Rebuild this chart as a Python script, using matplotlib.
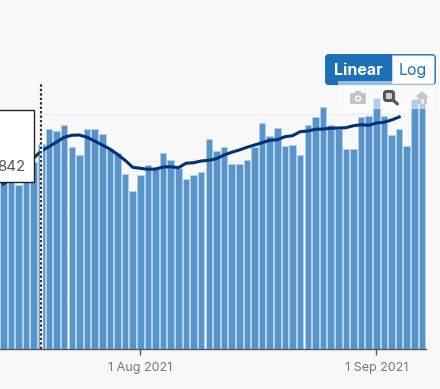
import pandas as pd
import matplotlib.pyplot as plt
import matplotlib.dates as mdates
from matplotlib.patches import Rectangle, FancyBboxPatch, Circle, Polygon

plt.rcParams['font.family'] = ['Inter', 'DejaVu Sans']

dates = pd.date_range('2021-07-14', '2021-09-07')
daily = [29580, 30430, 27880, 31280, 31790, 34850, 37350, 37060, 38080, 34390, 32980,
         37350, 37350, 36550, 33950, 33320, 29700, 26910, 29530, 31330, 30720, 33270,
         32180, 30720, 28900, 29580, 30140, 35650, 33710, 34290, 31400, 31400, 32180,
         34290, 38470, 36160, 37570, 34510, 34630, 32980, 38080, 39390, 41140, 38030,
         37350, 34000, 34000, 39490, 39610, 42720, 39610, 36330, 37400, 34560, 42450,
         42450]
# rolling average stops before the last three days
rolling = [28050, 28900, 30090, 31280, 32470, 33660, 34390, 35190, 35990, 36330, 36380,
           35990, 35360, 34680, 34000, 33100, 32080, 30890, 30720, 30550, 30600, 30940,
           30990, 30820, 31570, 31670, 31960, 32080, 32350, 32980, 33440, 33830, 34290,
           34680, 35070, 35480, 35580, 36090, 36260, 36940, 37060, 37350, 37400, 37520,
           37570, 37620, 37960, 38130, 38030, 38420, 38540, 38930, 39440]
grid_values = [8000, 16000, 24000, 32000, 40000]
tick_dates = ['2021-08-01', '2021-09-01']
tick_labels = ['1 Aug 2021', '1 Sep 2021']
marker_date = '2021-07-19'

W, H = 440, 389
bg = '#f8f8f8'
fig = plt.figure(figsize=(W / 100, H / 100), dpi=100, facecolor=bg)

# main chart, pixel edges: x 0-425.7, baseline at y=349
ax = fig.add_axes([0, (H - 349) / H, 425.7 / W, 349 / H], facecolor=bg)
aug1 = mdates.date2num(pd.Timestamp('2021-08-01'))
ax.set_xlim(aug1 - 140.3 / 7.613, aug1 + (425.7 - 140.3) / 7.613)
ax.set_ylim(0, 59330)

ax.bar(dates, daily, width=0.86, color='#5694ca', edgecolor='#b9d2e8', linewidth=0.5, zorder=2)
ax.plot(dates[:len(rolling)], rolling, color='#003078', linewidth=2.2, zorder=3)

for g in grid_values:
    ax.axhline(g, color='#eeeeee', linewidth=1, zorder=1)

ax.vlines(pd.Timestamp(marker_date), 0, 45050, color='white', linewidth=2.4, zorder=4)
ax.vlines(pd.Timestamp(marker_date), 0, 45050, color='#333333', linewidth=1.6,
          linestyles=(0, (1.1, 0.9)), zorder=5)

ax.set_xticks(pd.to_datetime(tick_dates))
ax.set_xticklabels(tick_labels, fontsize=9, color='#777777')
ax.tick_params(axis='x', length=4, width=1, color='#505a5f', pad=5)
ax.set_yticks([])
for s in ['top', 'left', 'right']:
    ax.spines[s].set_visible(False)
ax.spines['bottom'].set_color('#505a5f')
ax.spines['bottom'].set_linewidth(1)

# overlay in pixel coordinates for the tooltip and the buttons
ui = fig.add_axes([0, 0, 1, 1], facecolor='none')
ui.set_xlim(0, W)
ui.set_ylim(H, 0)
ui.axis('off')

ui.add_patch(Rectangle((-2, 110), 35.5, 72, facecolor='white', edgecolor='#222222', linewidth=1))
ui.text(25.8, 167, '842', ha='right', va='center', fontsize=10.8, color='#555555')

# Linear / Log switch
ui.add_patch(FancyBboxPatch((325.8, 54.8), 109.4, 29.6, boxstyle='round,pad=0,rounding_size=3',
                            facecolor='white', edgecolor='#1d70b8', linewidth=1))
ui.add_patch(FancyBboxPatch((325.3, 54.3), 67, 30.4, boxstyle='round,pad=0,rounding_size=3',
                            facecolor='#1d70b8', edgecolor='none'))
ui.add_patch(Rectangle((385, 54.3), 7.3, 30.4, facecolor='#1d70b8', edgecolor='none'))
ui.text(358.5, 70, 'Linear', ha='center', va='center', fontsize=11.5, fontweight='bold', color='white')
ui.text(413, 70, 'Log', ha='center', va='center', fontsize=11.5, color='#1d70b8')

# modebar
ui.add_patch(Rectangle((338, 81), 96, 28, facecolor='white', edgecolor='none', alpha=0.55))
ui.add_patch(FancyBboxPatch((350, 93), 16, 11, boxstyle='round,pad=0,rounding_size=1.5',
                            facecolor='#c4c4c4', edgecolor='none'))
ui.add_patch(Rectangle((355, 91), 6, 3, facecolor='#c4c4c4', edgecolor='none'))
ui.add_patch(Circle((358, 98.5), 3.2, facecolor='white', edgecolor='none'))
ui.add_patch(Circle((358, 98.5), 1.8, facecolor='#c4c4c4', edgecolor='none'))
ui.add_patch(FancyBboxPatch((384.5, 91.5), 9, 9, boxstyle='round,pad=0,rounding_size=2',
                            facecolor='#cfcfcf', edgecolor='#555555', linewidth=2.2))
ui.plot([393.5, 397.5], [100.5, 104], color='#555555', linewidth=2.2, solid_capstyle='round')
ui.add_patch(Polygon([(415, 97), (422, 91), (429, 97)], closed=True, facecolor='#c9c9c9', edgecolor='none'))
ui.add_patch(Rectangle((417.5, 97), 9, 6.5, facecolor='#c9c9c9', edgecolor='none'))
ui.add_patch(Rectangle((421, 99), 2.5, 4.5, facecolor='white', edgecolor='none', alpha=0.6))

fig.savefig('out.png', dpi=100, facecolor=bg)
